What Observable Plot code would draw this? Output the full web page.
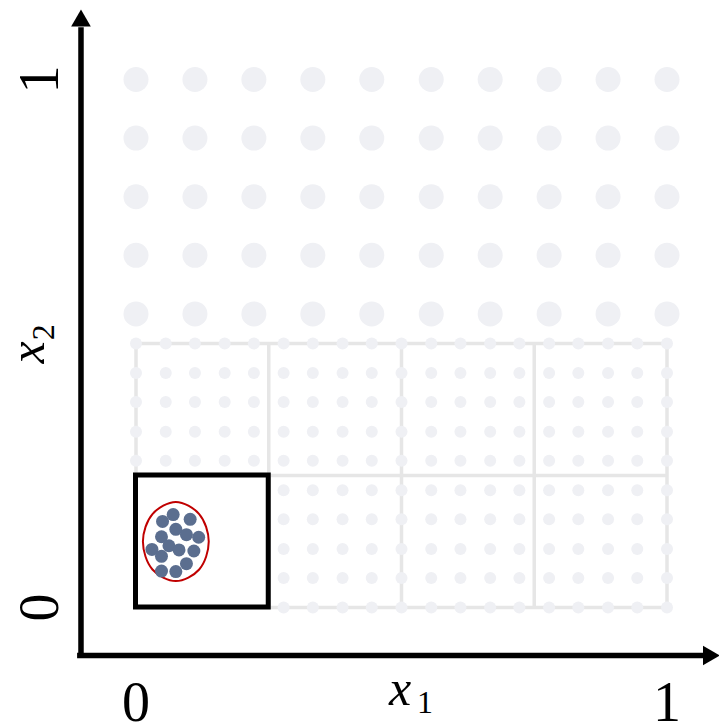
<!DOCTYPE html>
<html>
<head>
<meta charset="utf-8">
<script src="https://cdn.jsdelivr.net/npm/d3@7"></script>
<script src="https://cdn.jsdelivr.net/npm/@observablehq/plot@0.6"></script>
<style>
  html, body { margin: 0; padding: 0; background: #ffffff; }
  #chart svg { display: block; }
</style>
</head>
<body>
<div id="chart"></div>
<script>
// Coarse lattice (large light dots), upper region
const coarseX = [0, 0.111, 0.222, 0.333, 0.444, 0.556, 0.667, 0.778, 0.889, 1];
const coarseY = [0.556, 0.667, 0.778, 0.889, 1];

// Fine lattice (small light dots), lower region
const fineX = [0, 0.056, 0.111, 0.167, 0.222, 0.278, 0.333, 0.389, 0.444, 0.5,
               0.556, 0.611, 0.667, 0.722, 0.778, 0.833, 0.889, 0.944, 1];
const fineY = [0, 0.056, 0.111, 0.167, 0.222, 0.278, 0.333, 0.389, 0.444, 0.5];

// Partition lines of the fine region
const partX = [0, 0.25, 0.5, 0.75, 1];
const partY = [0, 0.25, 0.5];

// Highlighted cell
const cellX = [0, 0.25];
const cellY = [0, 0.25];

// Sample cluster inside the highlighted cell
const sampleX = [0.070, 0.050, 0.102, 0.075, 0.048, 0.095, 0.118, 0.030, 0.062, 0.081, 0.109, 0.048, 0.095, 0.048, 0.075];
const sampleY = [0.176, 0.163, 0.167, 0.148, 0.134, 0.138, 0.133, 0.110, 0.117, 0.109, 0.107, 0.097, 0.083, 0.069, 0.068];

// Outline around the cluster
const ringX = [0.137, 0.119, 0.075, 0.031, 0.013, 0.031, 0.075, 0.119];
const ringY = [0.125, 0.177, 0.200, 0.177, 0.125, 0.072, 0.050, 0.072];

// Axis tick labels
const xTickValues = [0, 1];
const xTickLabels = ["0", "1"];
const yTickValues = [0, 1];
const yTickLabels = ["0", "1"];

// Axis positions (data units)
const axisXPos = -0.1036;   // vertical axis
const axisYPos = -0.0909;   // horizontal axis

// ---------- build tables ----------
const coarse = coarseY.flatMap(y => coarseX.map(x => ({x, y})));
const fine = fineY.flatMap(y => fineX.map(x => ({x, y})))
  .filter(d => !(d.x <= cellX[1] && d.y <= cellY[1]));
const samples = sampleX.map((x, i) => ({x, y: sampleY[i]}));
const ring = ringX.map((x, i) => ({x, y: ringY[i]}));
const xTicks = xTickValues.map((v, i) => ({v, label: xTickLabels[i]}));
const yTicks = yTickValues.map((v, i) => ({v, label: yTickLabels[i]}));

const light = "#eff0f4";
const lineGray = "#e6e6e6";
const serif = "'Liberation Serif', 'DejaVu Serif', serif";

const chart = Plot.plot({
  width: 719,
  height: 722,
  margin: 0,
  style: {background: "#ffffff"},
  x: {domain: [0, 1], range: [135.5, 666.5], axis: null},
  y: {domain: [0, 1], range: [607, 79], axis: null},
  marks: [
    // partition lines
    Plot.ruleX(partX, {y1: partY[0], y2: partY[partY.length - 1], stroke: lineGray, strokeWidth: 3.5}),
    Plot.ruleY(partY, {x1: partX[0], x2: partX[partX.length - 1], stroke: lineGray, strokeWidth: 3.5}),
    // lattices
    Plot.dot(coarse, {x: "x", y: "y", r: 12.5, fill: light, stroke: null}),
    Plot.dot(fine, {x: "x", y: "y", r: 6, fill: light, stroke: null}),
    // highlighted cell
    Plot.rect([{}], {x1: cellX[0], x2: cellX[1], y1: cellY[0], y2: cellY[1], fill: "#ffffff", stroke: "#000000", strokeWidth: 5}),
    // ring
    Plot.line(ring, {x: "x", y: "y", curve: "catmull-rom-closed", stroke: "#c00000", strokeWidth: 2, fill: "none"}),
    // samples
    Plot.dot(samples, {x: "x", y: "y", r: 6.5, fill: "#5b6e8f", stroke: null}),
    // axes
    Plot.ruleX([axisXPos], {y1: -0.0966, y2: 1.098, stroke: "#000000", strokeWidth: 5.5}),
    Plot.ruleY([axisYPos], {x1: -0.110, x2: 1.0772, stroke: "#000000", strokeWidth: 5.5}),
    Plot.dot([{x: axisXPos, y: 1.111}], {x: "x", y: "y", symbol: "triangle", r: 7.3, fill: "#000000", stroke: null}),
    Plot.dot([{x: 1.0785, y: axisYPos}], {x: "x", y: "y", symbol: "triangle", r: 7.3, rotate: 90, fill: "#000000", stroke: null}),
    // tick labels
    Plot.text(xTicks, {x: "v", y: -0.181, text: "label", fontSize: 56, fontFamily: serif, fill: "#000000", textAnchor: "middle", lineAnchor: "middle"}),
    Plot.text(yTicks, {x: -0.1808, y: "v", text: "label", fontSize: 56, fontFamily: serif, fill: "#000000", rotate: -90, textAnchor: "middle", lineAnchor: "middle"}),
    // axis titles
    Plot.text([{}], {x: 0.4972, y: -0.1544, text: () => "x", fontSize: 50, fontStyle: "italic", fontFamily: serif, fill: "#000000", textAnchor: "middle", lineAnchor: "middle"}),
    Plot.text([{}], {x: 0.5443, y: -0.1799, text: () => "1", fontSize: 32, fontFamily: serif, fill: "#000000", textAnchor: "middle", lineAnchor: "middle"}),
    Plot.text([{}], {x: -0.2035, y: 0.483, text: () => "x", fontSize: 50, fontStyle: "italic", fontFamily: serif, fill: "#000000", rotate: -90, textAnchor: "middle", lineAnchor: "middle"}),
    Plot.text([{}], {x: -0.1735, y: 0.5214, text: () => "2", fontSize: 32, fontFamily: serif, fill: "#000000", rotate: -90, textAnchor: "middle", lineAnchor: "middle"})
  ]
});

document.getElementById("chart").appendChild(chart);
</script>
</body>
</html>
